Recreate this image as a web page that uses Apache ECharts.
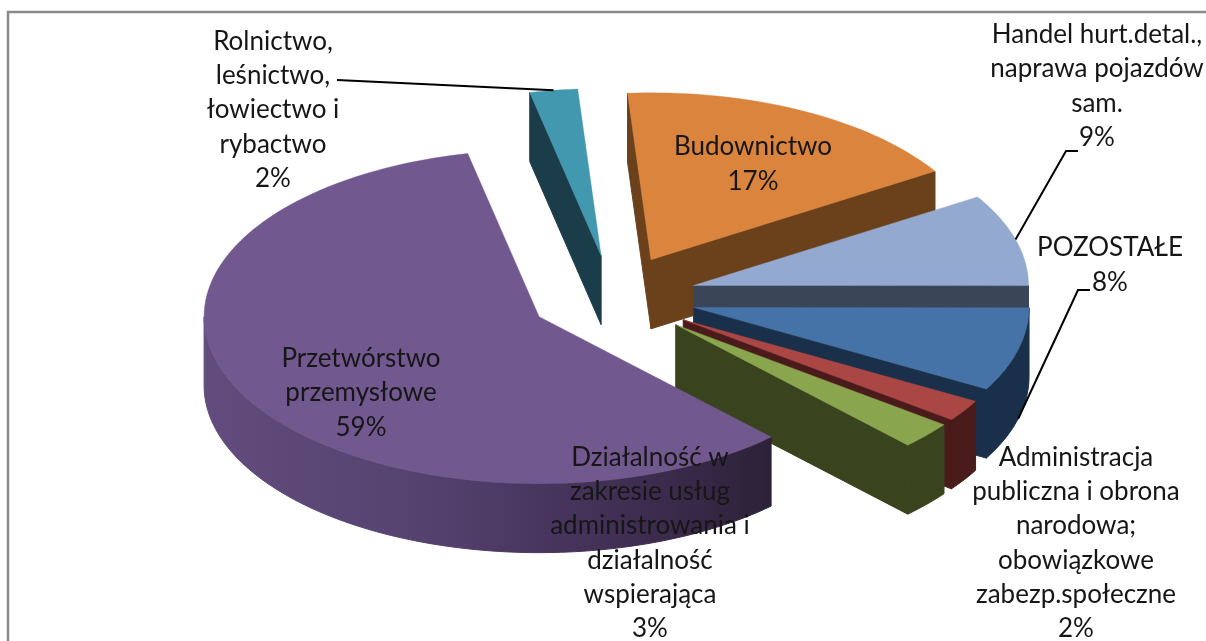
<!DOCTYPE html>
<html><head><meta charset="utf-8">
<style>html,body{margin:0;padding:0;background:#fff}#c{width:1206px;height:641px}</style>
<script src="https://cdn.jsdelivr.net/npm/echarts@6/dist/echarts.min.js"></script>
</head><body><div id="c"></div>
<script>
const categories = [
  'Rolnictwo,\nleśnictwo,\nłowiectwo i\nrybactwo',
  'Budownictwo',
  'Handel hurt.detal.,\nnaprawa pojazdów\nsam.',
  'POZOSTAŁE',
  'Administracja\npubliczna i obrona\nnarodowa;\nobowiązkowe\nzabezp.społeczne',
  'Działalność w\nzakresie usług\nadministrowania i\ndziałalność\nwspierająca',
  'Przetwórstwo\nprzemysłowe'
];
const shares = [2.3, 17.2, 8.9, 8.1, 2.1, 2.6, 58.7];
const topColors  = ['#4198AF', '#DB843D', '#93A9CF', '#4572A7', '#AA4643', '#89A54E', '#71588F'];
const wallColors = ['#1B3D4A', '#6B411C', '#3B4558', '#1A2F49', '#4A1B1B', '#39441F', null];

// Projection of the exploded 3D pie
const geo = {cx: 613, cy: 297, rx: 335, ry: 167, depth: 69, explode: 0.25, startDeg: -12.3};
const layout = [
  {x: 273, y: 110, leader: [[337, 80]], anchor: 'top'},
  {x: 753, y: 164},
  {x: 1097, y: 86, leader: [[1078, 151], [1066, 151]], anchor: 'top'},
  {x: 1110, y: 265, leader: [[1090, 290], [1078, 290]], anchor: 'wall'},
  {x: 1076, y: 543},
  {x: 650, y: 543},
  {x: 361, y: 393}
];
const rad = d => d * Math.PI / 180;
const total = shares.reduce((a, b) => a + b, 0);
const spans = [];
shares.reduce((acc, v) => { const e = acc + v / total * 360; spans.push([acc, e]); return e; }, geo.startDeg);

function apexOf(i) {
  const m = rad((spans[i][0] + spans[i][1]) / 2);
  return [geo.cx + geo.explode * geo.rx * Math.sin(m), geo.cy - geo.explode * geo.ry * Math.cos(m)];
}
function rimPoint(a, deg, dz) {
  return [a[0] + geo.rx * Math.sin(rad(deg)), a[1] - geo.ry * Math.cos(rad(deg)) + (dz || 0)];
}
function arc(a, d0, d1, dz) {
  const n = Math.max(2, Math.ceil(Math.abs(d1 - d0) / 1.5)), pts = [];
  for (let k = 0; k <= n; k++) pts.push(rimPoint(a, d0 + (d1 - d0) * k / n, dz));
  return pts;
}
function poly(points, fill, sw) {
  return {type: 'polygon', shape: {points}, style: {fill, stroke: sw ? fill : null, lineWidth: sw || 0}, silent: true};
}
function labelText(i) {
  return categories[i] + '\n' + Math.round(shares[i]) + '%';
}
const purpleWall = {
  type: 'linear', x: 205, y: 0, x2: 770, y2: 0, global: true,
  colorStops: [
    {offset: 0, color: '#614C7D'}, {offset: 0.35, color: '#574370'},
    {offset: 0.6, color: '#49365F'}, {offset: 0.8, color: '#3D2B4E'}, {offset: 1, color: '#2C2238'}
  ]
};

function renderSlice(params, api) {
  const i = api.value(0);
  const [t0, t1] = spans[i];
  const a = apexOf(i), d = geo.depth, kids = [];
  const wall = wallColors[i] || purpleWall;
  const cut = deg => {
    const p = rimPoint(a, deg);
    return poly([a, p, [p[0], p[1] + d], [a[0], a[1] + d]], wall, 1);
  };
  if (Math.sin(rad(t0)) < 0) kids.push(cut(t0));
  if (Math.sin(rad(t1)) > 0) kids.push(cut(t1));
  const w0 = Math.max(t0, 90), w1 = Math.min(t1, 270);
  if (w1 > w0) kids.push(poly(arc(a, w0, w1, 0).concat(arc(a, w1, w0, d)), wall, 1));
  kids.push(poly([a].concat(arc(a, t0, t1, 0)), topColors[i], 0.4));
  return {type: 'group', children: kids};
}

function renderLabel(params, api) {
  const i = api.value(0), L = layout[i], kids = [];
  if (L.leader) {
    const a = apexOf(i), mid = (spans[i][0] + spans[i][1]) / 2;
    const end = rimPoint(a, mid, L.anchor === 'wall' ? geo.depth : 0);
    kids.push({type: 'polyline', shape: {points: L.leader.concat([end])},
      style: {stroke: '#000', lineWidth: 2, fill: 'none'}, silent: true});
  }
  kids.push({type: 'text', silent: true, style: {
    text: labelText(i), x: L.x, y: L.y, align: 'center', verticalAlign: 'middle',
    fontFamily: 'Lato', fontSize: 26, lineHeight: 34.3, fill: '#161616'
  }});
  return {type: 'group', children: kids};
}

const chart = echarts.init(document.getElementById('c'), null, {renderer: 'canvas'});
chart.setOption({
  animation: false,
  backgroundColor: '#fff',
  graphic: [{type: 'rect', z: -1, shape: {x: 8, y: 12, width: 1400, height: 900},
    style: {fill: 'none', stroke: '#8A8A8A', lineWidth: 2.5}, silent: true}],
  series: [
    {type: 'custom', coordinateSystem: 'none', z: 2, renderItem: renderSlice,
     data: shares.map((v, i) => [i, v]), silent: true, clip: false},
    {type: 'custom', coordinateSystem: 'none', z: 3, renderItem: renderLabel,
     data: shares.map((v, i) => [i, v]), silent: true, clip: false}
  ]
});
</script></body></html>
